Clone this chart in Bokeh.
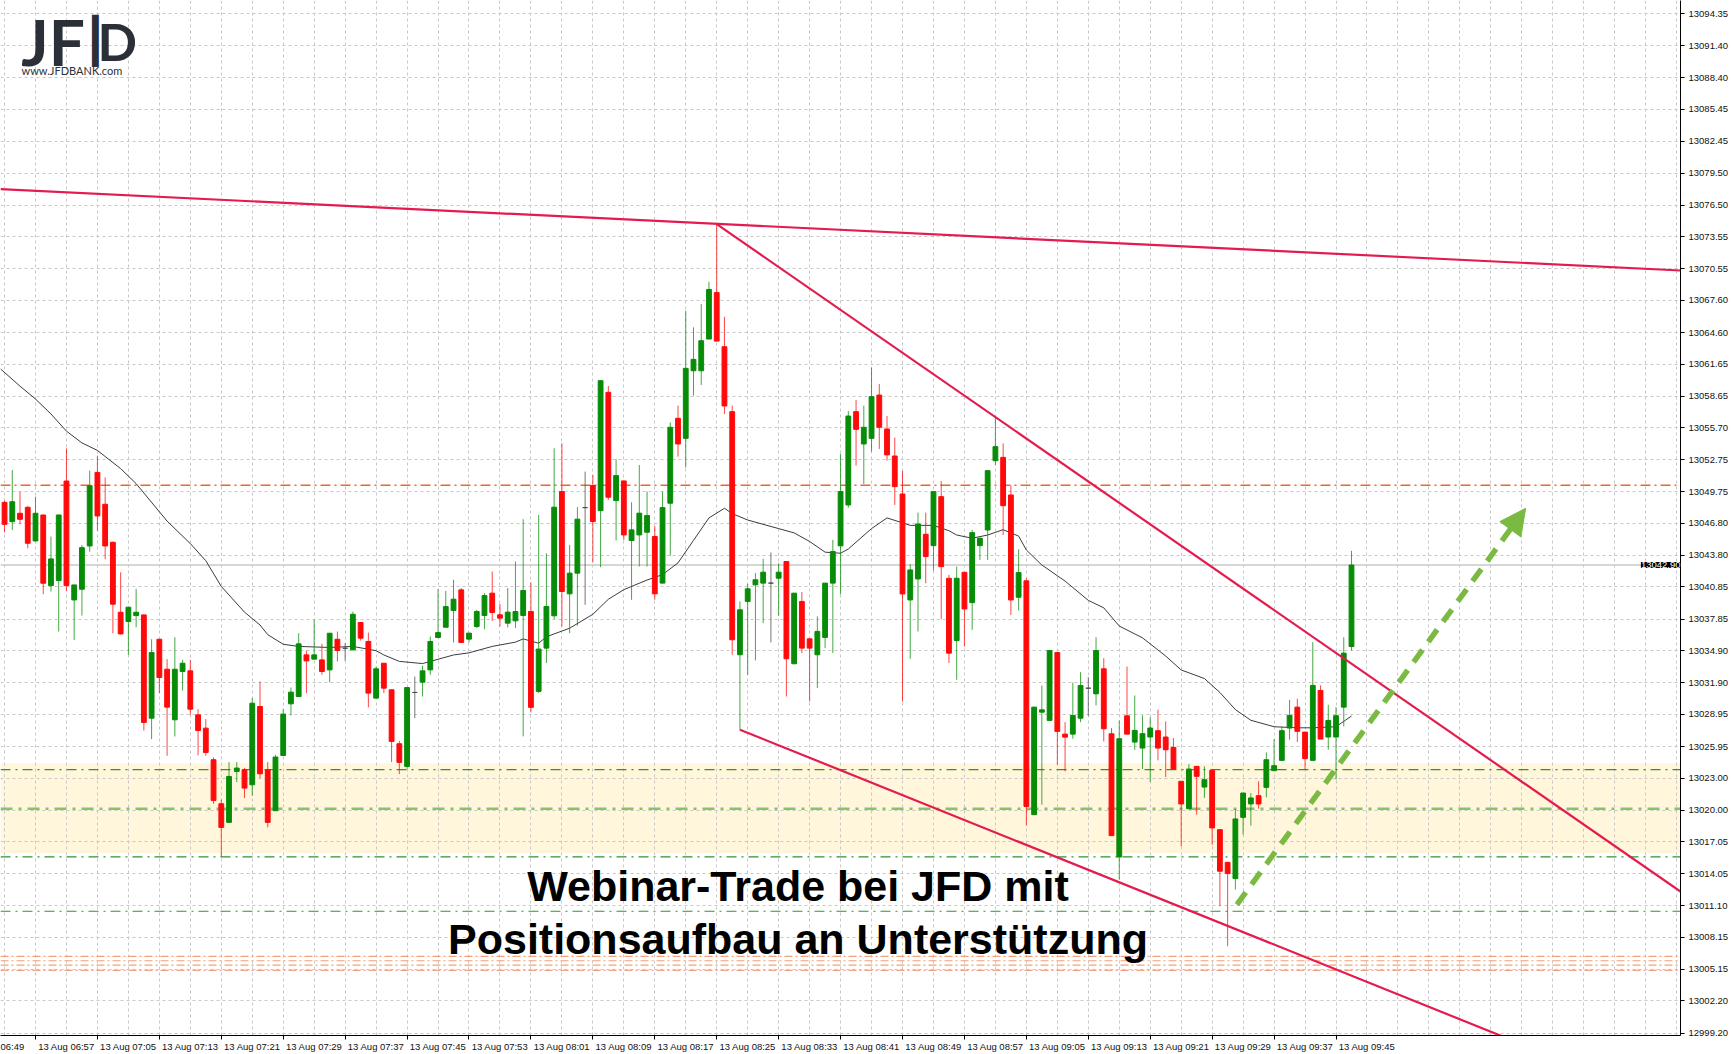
from bokeh.plotting import figure
from bokeh.models import (Range1d, FixedTicker, NumeralTickFormatter, Span, BoxAnnotation,
                          Arrow, NormalHead, Label, ColumnDataSource)
from bokeh.core.properties import value
from bokeh.embed import file_html
from bokeh.resources import INLINE

# ---------------- data (1-minute candles, 13 Aug 06:53 .. 09:47) ----------------
opens = [13048.75, 13046.95, 13047.73, 13048.29, 13045.15, 13047.57, 13040.98, 13041.45, 13050.74, 13039.64,
         13040.64, 13044.68, 13051.55, 13048.57, 13045.02, 13038.49, 13037.62, 13038.18, 13038.24, 13028.60,
         13035.97, 13033.17, 13028.45, 13032.96, 13033.02, 13028.91, 13027.67, 13024.72, 13020.61, 13018.87,
         13023.63, 13023.78, 13022.38, 13029.69, 13023.78, 13019.96, 13025.12, 13029.94, 13030.62, 13034.51,
         13034.11, 13034.04, 13033.11, 13035.97, 13035.13, 13034.98, 13037.53, 13035.76, 13030.47, 13033.73,
         13031.25, 13026.21, 13024.09, 13031.00, 13031.96, 13033.11, 13036.13, 13037.09, 13038.66, 13040.58,
         13035.98, 13037.16, 13038.19, 13040.27, 13038.25, 13037.47, 13037.69, 13038.19, 13038.56, 13031.10,
         13035.14, 13038.16, 13049.76, 13040.21, 13042.14, 13048.26, 13050.32, 13047.98, 13059.02, 13048.92,
         13050.75, 13045.19, 13045.71, 13045.96, 13045.56, 13041.21, 13048.67, 13056.60, 13054.73, 13061.04,
         13061.04, 13064.00, 13068.35, 13063.28, 13057.22, 13034.52, 13039.50, 13041.05, 13041.21, 13041.21,
         13041.67, 13043.23, 13033.68, 13039.50, 13036.01, 13034.52, 13036.14, 13041.21, 13044.69, 13048.51,
         13057.22, 13054.20, 13054.73, 13058.77, 13055.60, 13053.08, 13049.53, 13039.64, 13041.60, 13045.77,
         13044.71, 13049.28, 13041.66, 13035.85, 13042.22, 13039.39, 13044.71, 13046.17, 13052.64, 13052.95,
         13049.44, 13039.89, 13041.42, 13019.59, 13029.16, 13028.39, 13034.73, 13027.11, 13027.11, 13028.60,
         13031.40, 13030.87, 13033.21, 13027.14, 13015.64, 13028.82, 13026.37, 13025.81, 13026.84, 13027.43,
         13026.84, 13025.87, 13022.70, 13020.15, 13024.10, 13022.17, 13023.73, 13018.19, 13015.14, 13013.62,
         13019.34, 13020.59, 13021.36, 13022.14, 13023.70, 13024.66, 13027.68, 13029.63, 13027.30, 13024.66,
         13031.19, 13026.84, 13026.84, 13029.63, 13035.29]
highs = [13048.90, 13051.77, 13049.75, 13048.40, 13049.28, 13047.60, 13045.55, 13047.60, 13053.79, 13041.04,
         13044.77, 13051.71, 13053.11, 13051.08, 13045.10, 13042.22, 13039.00, 13040.67, 13038.30, 13035.97,
         13036.00, 13034.11, 13036.16, 13034.04, 13034.04, 13029.44, 13028.51, 13024.93, 13020.99, 13024.50,
         13024.50, 13023.94, 13030.47, 13032.02, 13024.50, 13025.18, 13029.44, 13031.46, 13036.53, 13034.92,
         13037.78, 13035.54, 13036.53, 13036.69, 13035.60, 13038.55, 13037.53, 13036.59, 13033.42, 13033.73,
         13031.25, 13026.49, 13031.46, 13032.49, 13033.49, 13036.22, 13040.64, 13040.48, 13041.52, 13040.74,
         13036.54, 13038.72, 13040.27, 13042.29, 13039.25, 13040.74, 13043.23, 13047.18, 13041.27, 13047.58,
         13044.00, 13053.80, 13054.27, 13044.78, 13048.30, 13051.62, 13051.31, 13060.17, 13059.61, 13052.77,
         13050.75, 13048.76, 13052.24, 13049.76, 13046.55, 13049.76, 13056.22, 13057.78, 13066.64, 13065.09,
         13067.26, 13069.35, 13074.73, 13066.08, 13057.78, 13039.50, 13041.14, 13042.14, 13043.48, 13044.07,
         13043.07, 13043.23, 13040.27, 13040.37, 13036.01, 13038.10, 13041.21, 13045.25, 13053.27, 13057.28,
         13058.31, 13057.78, 13061.32, 13059.80, 13056.81, 13054.79, 13051.68, 13042.97, 13047.79, 13047.79,
         13049.75, 13050.74, 13041.98, 13042.75, 13042.22, 13046.17, 13045.46, 13051.71, 13056.81, 13054.26,
         13050.31, 13044.37, 13041.66, 13029.63, 13031.65, 13034.92, 13034.73, 13028.23, 13031.93, 13032.90,
         13032.43, 13036.16, 13034.20, 13027.67, 13028.39, 13033.42, 13030.72, 13028.86, 13028.70, 13029.39,
         13028.30, 13026.74, 13022.70, 13024.32, 13024.10, 13024.10, 13023.73, 13018.19, 13015.14, 13020.12,
         13021.61, 13021.61, 13022.70, 13025.41, 13026.65, 13027.83, 13030.32, 13030.41, 13027.30, 13035.70,
         13031.66, 13029.85, 13029.63, 13036.16, 13044.22]
lows = [13045.95, 13046.17, 13046.70, 13044.46, 13045.10, 13040.17, 13040.42, 13036.69, 13040.48, 13035.91,
        13038.18, 13044.15, 13046.11, 13043.44, 13036.53, 13036.40, 13034.51, 13037.09, 13027.45, 13026.64,
        13030.94, 13025.09, 13026.89, 13031.18, 13028.91, 13025.12, 13025.09, 13020.61, 13015.64, 13018.87,
        13022.63, 13021.14, 13021.36, 13023.01, 13018.40, 13019.96, 13025.12, 13028.85, 13030.62, 13030.94,
        13034.11, 13032.65, 13031.96, 13033.89, 13033.95, 13034.92, 13035.85, 13029.60, 13030.47, 13030.94,
        13024.50, 13023.38, 13023.88, 13028.60, 13030.62, 13032.65, 13036.13, 13037.09, 13035.67, 13035.67,
        13035.67, 13037.01, 13036.91, 13037.69, 13037.16, 13037.07, 13037.01, 13026.90, 13029.14, 13030.94,
        13033.74, 13037.85, 13037.16, 13036.54, 13037.23, 13039.18, 13043.13, 13042.70, 13048.98, 13045.19,
        13045.25, 13039.65, 13042.76, 13042.76, 13039.65, 13041.21, 13043.76, 13053.02, 13052.00, 13058.71,
        13059.71, 13064.00, 13063.81, 13057.00, 13034.52, 13027.52, 13032.65, 13033.99, 13037.47, 13035.67,
        13038.16, 13030.63, 13033.68, 13034.68, 13030.17, 13031.41, 13035.14, 13034.68, 13040.18, 13048.26,
        13052.18, 13050.47, 13053.49, 13053.74, 13052.65, 13048.51, 13030.16, 13034.14, 13036.69, 13041.20,
        13042.38, 13037.84, 13033.74, 13032.18, 13035.29, 13036.84, 13043.37, 13043.37, 13052.24, 13045.71,
        13038.24, 13038.65, 13018.59, 13019.59, 13020.52, 13028.39, 13024.25, 13023.63, 13026.68, 13028.23,
        13028.82, 13029.79, 13026.43, 13017.63, 13013.52, 13027.11, 13025.65, 13023.85, 13022.64, 13024.66,
        13023.11, 13023.85, 13016.64, 13020.15, 13019.59, 13021.15, 13016.79, 13011.04, 13007.31, 13012.59,
        13017.73, 13018.57, 13020.15, 13021.21, 13023.70, 13024.66, 13026.59, 13026.37, 13023.79, 13024.66,
        13026.65, 13025.65, 13022.86, 13027.83, 13034.92]
closes = [13046.70, 13048.81, 13047.17, 13044.93, 13047.73, 13041.20, 13043.47, 13047.57, 13040.98, 13041.04,
          13044.52, 13050.31, 13047.48, 13044.68, 13039.24, 13036.47, 13038.96, 13038.49, 13028.20, 13034.73,
          13032.40, 13029.63, 13033.17, 13033.73, 13029.44, 13027.45, 13025.40, 13020.92, 13018.40, 13023.16,
          13023.94, 13022.07, 13030.00, 13023.41, 13018.87, 13024.97, 13028.98, 13031.03, 13035.54, 13033.95,
          13034.51, 13032.96, 13036.53, 13034.92, 13035.13, 13038.30, 13036.07, 13030.94, 13033.21, 13031.40,
          13026.43, 13024.47, 13031.46, 13031.00, 13033.02, 13035.76, 13036.59, 13039.02, 13039.71, 13035.67,
          13036.54, 13038.56, 13040.05, 13038.47, 13037.94, 13038.50, 13038.56, 13040.52, 13029.61, 13035.05,
          13039.03, 13048.30, 13040.43, 13042.14, 13047.18, 13048.26, 13046.96, 13060.11, 13049.23, 13051.25,
          13045.71, 13046.18, 13047.74, 13047.52, 13040.21, 13048.26, 13055.76, 13054.20, 13061.26, 13062.10,
          13063.84, 13068.63, 13063.81, 13057.75, 13035.92, 13038.72, 13040.68, 13041.52, 13042.23, 13041.21,
          13042.23, 13034.15, 13040.27, 13035.14, 13035.14, 13036.70, 13041.21, 13044.16, 13049.76, 13056.81,
          13055.57, 13055.76, 13058.62, 13055.76, 13053.18, 13050.22, 13040.20, 13042.44, 13046.73, 13043.69,
          13049.75, 13042.75, 13034.67, 13041.66, 13038.80, 13045.92, 13045.40, 13051.71, 13053.95, 13048.44,
          13039.64, 13042.19, 13020.36, 13029.63, 13029.38, 13034.92, 13027.36, 13026.83, 13028.85, 13031.65,
          13031.40, 13034.92, 13027.61, 13017.63, 13026.68, 13027.11, 13027.46, 13027.15, 13027.68, 13025.81,
          13025.65, 13023.85, 13020.59, 13023.85, 13023.17, 13022.86, 13018.35, 13014.31, 13014.09, 13019.19,
          13021.61, 13021.15, 13020.59, 13024.72, 13024.16, 13027.43, 13028.86, 13027.37, 13024.82, 13031.66,
          13026.65, 13028.39, 13028.83, 13034.67, 13042.90]

# moving average (candle index, price)
ma_idx = [-0.5, 2, 4, 6, 8, 10, 12, 15, 17, 21, 24, 26, 28, 31, 33, 34, 36, 38, 42, 45, 48, 49, 51, 54, 56,
          58, 60, 63, 66, 67, 69, 70, 73, 76, 78, 80, 83, 85, 87, 89, 91, 93, 94, 96, 100, 102, 104, 106,
          108, 109, 112, 114, 117, 120, 122, 123, 125, 127, 129, 131, 132, 134, 137, 140, 142, 144, 147,
          150, 152, 155, 157, 159, 161, 164, 167, 169, 172, 173, 174]
ma_val = [13061.2, 13059.6, 13058.4, 13057.0, 13055.4, 13054.3, 13053.6, 13051.9, 13050.5, 13047.0, 13044.9,
          13043.3, 13040.9, 13038.5, 13037.3, 13036.4, 13035.5, 13035.3, 13035.2, 13035.3, 13034.9, 13034.5,
          13033.9, 13033.7, 13034.1, 13034.5, 13034.7, 13035.3, 13035.7, 13036.0, 13035.6, 13036.2, 13037.0,
          13038.3, 13039.7, 13040.6, 13041.5, 13042.0, 13043.1, 13045.2, 13047.3, 13048.2, 13047.7, 13047.1,
          13046.3, 13045.9, 13045.1, 13044.1, 13044.0, 13044.4, 13046.3, 13047.3, 13046.6, 13046.6, 13046.1,
          13045.7, 13045.4, 13045.7, 13046.2, 13045.6, 13044.3, 13042.9, 13041.4, 13039.6, 13038.9, 13037.2,
          13036.1, 13034.4, 13033.1, 13032.3, 13031.0, 13029.4, 13028.4, 13027.8, 13027.7, 13027.7, 13027.8,
          13028.3, 13028.8]

tick_idx = [-4, 4, 12, 20, 28, 36, 44, 52, 60, 68, 76, 84, 92, 100, 108, 116, 124, 132, 140, 148, 156, 164, 172]
tick_labels = ["06:49", "13 Aug 06:57", "13 Aug 07:05", "13 Aug 07:13", "13 Aug 07:21", "13 Aug 07:29",
               "13 Aug 07:37", "13 Aug 07:45", "13 Aug 07:53", "13 Aug 08:01", "13 Aug 08:09", "13 Aug 08:17",
               "13 Aug 08:25", "13 Aug 08:33", "13 Aug 08:41", "13 Aug 08:49", "13 Aug 08:57", "13 Aug 09:05",
               "13 Aug 09:13", "13 Aug 09:21", "13 Aug 09:29", "13 Aug 09:37", "13 Aug 09:45"]
price_ticks = [13094.35, 13091.40, 13088.40, 13085.45, 13082.45, 13079.50, 13076.50, 13073.55, 13070.55,
               13067.60, 13064.60, 13061.65, 13058.65, 13055.70, 13052.75, 13049.75, 13046.80, 13043.80,
               13040.85, 13037.85, 13034.90, 13031.90, 13028.95, 13025.95, 13023.00, 13020.00, 13017.05,
               13014.05, 13011.10, 13008.15, 13005.15, 13002.20, 12999.20]

last_price = 13042.90
resistance_level = 13050.35
zone_bottom, zone_top = 13016.02, 13024.40
green_levels = [13023.80, 13015.64, 13010.57]
green_mid_level = 13020.15
orange_levels = [13006.35, 13005.95, 13005.55, 13005.05]

trend_x = [[-0.52, 216.5], [92, 216.5], [95, 216.5]]
trend_y = [[13078.0, 13070.4], [13074.73, 13012.41], [13027.52, 12992.2]]

arrow_x = [159.2, 196.5]
arrow_y = [13011.2, 13048.2]

headline = ["Webinar-Trade bei JFD mit", "Positionsaufbau an Unterstützung"]

# ---------------- figure ----------------
X0, X1 = -0.52, 216.5
Y0, Y1 = 12998.97, 13095.61

p = figure(width=1731, height=1054, x_range=Range1d(X0, X1), y_range=Range1d(Y0, Y1),
           y_axis_location="right", output_backend="svg", toolbar_location=None,
           min_border_left=0, min_border_top=0, min_border_right=0, min_border_bottom=0,
           background_fill_color="white", border_fill_color="white")
p.outline_line_color = None

# zone
p.add_layout(BoxAnnotation(bottom=zone_bottom, top=zone_top, fill_color="#FFF6DB", fill_alpha=1.0,
                           line_color=None, level="image"))

# grid
p.xgrid.ticker = FixedTicker(ticks=list(range(0, 217, 4)))
for g in (p.xgrid, p.ygrid):
    g.grid_line_color = "#C8C8C8"
    g.grid_line_dash = "3 3"
    g.grid_line_width = 1

# axes
p.xaxis.ticker = FixedTicker(ticks=[t + 4 for t in tick_idx], minor_ticks=tick_idx)
p.xaxis.major_label_overrides = {t + 4: lab for t, lab in zip(tick_idx, tick_labels)}
p.xaxis.major_tick_out = 0
p.xaxis.major_tick_in = 0
p.xaxis.minor_tick_out = 4
p.xaxis.minor_tick_in = 0
p.xaxis.minor_tick_line_color = "black"
p.xaxis.major_label_standoff = 1

p.yaxis.ticker = FixedTicker(ticks=price_ticks)
p.yaxis.formatter = NumeralTickFormatter(format="0.00")
p.yaxis.major_tick_out = 4
p.yaxis.major_tick_in = 0
p.yaxis.minor_tick_out = 0
p.yaxis.minor_tick_in = 0
p.yaxis.major_label_standoff = 4

for ax in (p.xaxis, p.yaxis):
    ax.axis_line_color = "black"
    ax.major_tick_line_color = "black"
    ax.major_label_text_font = "Liberation Sans"
    ax.major_label_text_font_size = "9.5px"
    ax.major_label_text_color = "#111111"

# horizontal levels
p.add_layout(Span(location=resistance_level, dimension="width", line_color="#F0642A",
                  line_dash="10 4 2 4", line_width=1.3, level="underlay"))
p.add_layout(Span(location=last_price, dimension="width", line_color="#C8C8C8",
                  line_width=1.5, level="underlay"))
for lv in green_levels:
    p.add_layout(Span(location=lv, dimension="width", line_color="#2E962E",
                      line_dash="10 5 2 5", line_width=1.2, level="underlay"))
p.add_layout(Span(location=green_mid_level, dimension="width", line_color="#86C46A",
                  line_dash="12 6 3 6", line_width=2.5, level="underlay"))
for lv in orange_levels:
    p.add_layout(Span(location=lv, dimension="width", line_color="#F5A078",
                      line_dash="8 3 2 3", line_width=1.2, level="underlay"))

# moving average
p.line(ma_idx, ma_val, line_color="#3C3C3C", line_width=1)

# candles
idx = list(range(len(opens)))
body_col, top_, bot_ = [], [], []
for o, c in zip(opens, closes):
    if c > o:
        body_col.append("#078C07")
    elif c < o:
        body_col.append("#FF0A0A")
    else:
        body_col.append("#4A4A4A")
    top_.append(max(o, c))
    bot_.append(min(o, c))
src = ColumnDataSource(dict(x=idx, h=highs, l=lows, top=top_, bottom=bot_, col=body_col))
p.segment(x0="x", y0="h", x1="x", y1="l", line_color="col", line_alpha=0.75, line_width=1, source=src)
p.vbar(x="x", width=0.62, top="top", bottom="bottom", fill_color="col", line_color="col",
       line_width=1, source=src)

# trendlines
p.multi_line(trend_x, trend_y, line_color="#E31B4E", line_width=2.2)

# arrow
p.add_layout(Arrow(end=NormalHead(size=26, fill_color="#7BBA42", line_color="#7BBA42"),
                   x_start=arrow_x[0], y_start=arrow_y[0], x_end=arrow_x[1], y_end=arrow_y[1],
                   line_color="#7BBA42", line_width=5.5, line_dash="15 10"))

# headline text
p.text(x=[102.5, 102.5], y=[13012.9, 13008.0], text=headline,
       text_font=value("Liberation Sans"), text_font_style="bold", text_font_size="43px",
       text_align="center", text_baseline="middle", text_color="black")

# logo
p.add_layout(Label(x=2.15, y=13091.8, text="JF", text_font="Lato", text_font_style="bold",
                   text_font_size="64px", text_color="#2B3038", text_baseline="alphabetic"))
p.add_layout(Label(x=10.0, y=13091.9, text="\u2503", text_font="DejaVu Sans",
                   text_font_size="44px", text_color="#2B3038", text_baseline="alphabetic"))
p.add_layout(Label(x=12.0, y=13091.8, text="D", text_font="Lato", text_font_style="bold",
                   text_font_size="52px", text_color="#2B3038", text_baseline="alphabetic"))
p.add_layout(Label(x=2.2, y=13089.1, text="www.JFDBANK.com", text_font="Lato",
                   text_font_size="11px", text_color="#2B3038", text_baseline="alphabetic"))

# current price tag at the right edge of the chart
p.add_layout(Label(x=X1, y=last_price, x_offset=0, text="%.2f" % last_price, text_font="Liberation Sans",
                   text_font_size="9.5px", text_color="white", text_baseline="middle", text_align="right",
                   background_fill_color="black", background_fill_alpha=1.0))

open("out.html", "w").write(file_html(p, INLINE))
